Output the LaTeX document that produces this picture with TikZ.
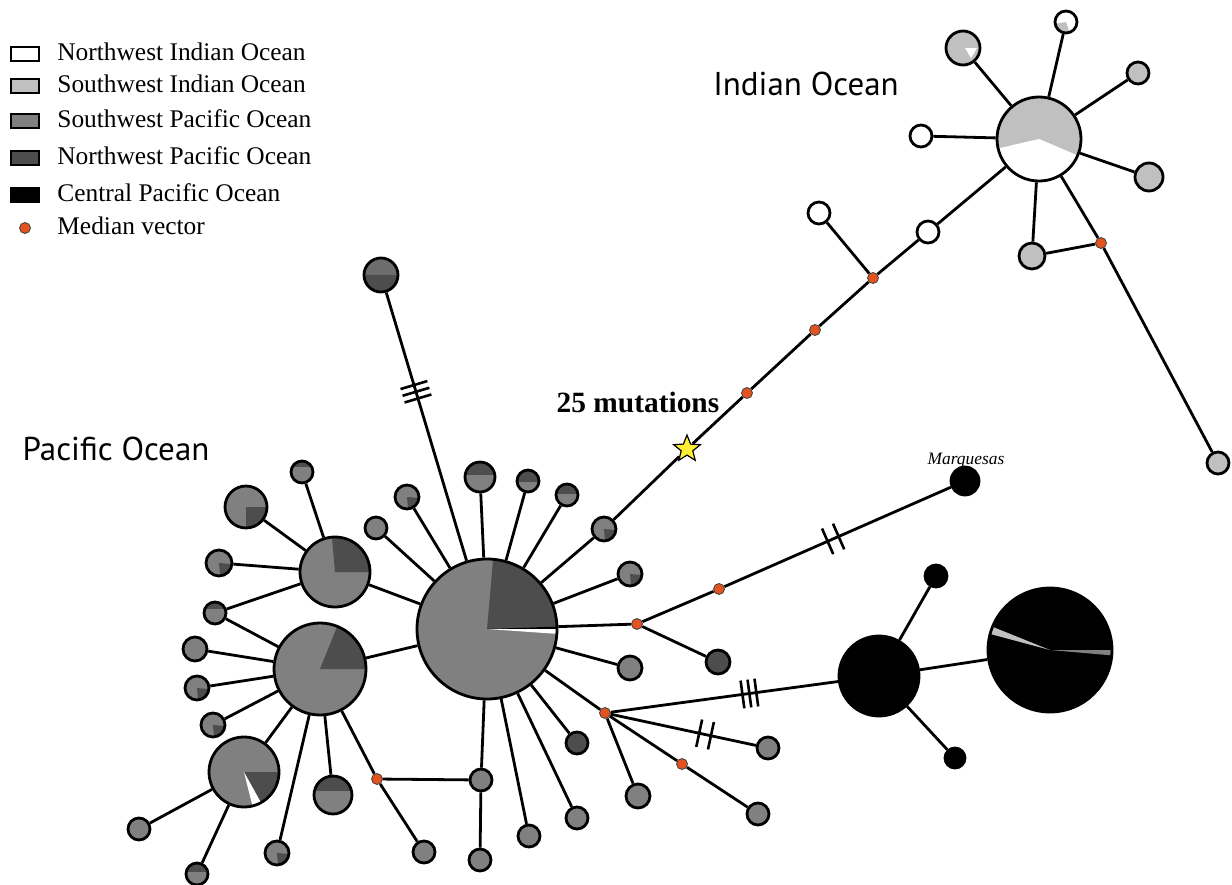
\documentclass[tikz,border=0pt]{standalone}
\usepackage{fontspec}
\setmainfont{Liberation Serif}
\newfontfamily\regionfont{PT Sans}
\usepackage{tikz}
\usetikzlibrary{shapes.geometric, decorations.markings}
\definecolor{ltGray}{HTML}{C0C0C0}
\definecolor{midGray}{HTML}{808080}
\definecolor{dkGray}{HTML}{4D4D4D}
\definecolor{medRed}{HTML}{E2531F}
\definecolor{starYellow}{HTML}{FFEE33}

\begin{document}
\begin{tikzpicture}[x=0.5pt, y=-0.5pt,
    hap/.style={circle, draw, line width=1.4pt, inner sep=0pt, minimum size=#1pt, fill=midGray},
    part/.style={path picture={\foreach \a/\b/\c in {#1}
      \fill[\c] (path picture bounding box.center) -- ++(\a:50pt)
        arc[start angle=\a, end angle=\b, radius=50pt] -- cycle;}},
    cap/.style 2 args={path picture={\fill[#2] ([yshift=#1]path picture bounding box.center)
      ++(-50pt,0pt) rectangle ++(100pt,50pt);}},
    med/.style={circle, draw=black!75, line width=0.4pt, fill=medRed, inner sep=0pt, minimum size=5.5pt},
    edge/.style={line width=1.4pt},
    hashes/.style 2 args={postaction={decorate, decoration={markings,
      mark=at position #1 with {\foreach \d in {#2} \draw[line width=1.3pt] (\d pt,-7pt) -- (\d pt,7pt);}}}},
    keybox/.style={draw, line width=0.7pt, minimum width=14pt, minimum height=7pt, inner sep=0pt},
    keytext/.style={anchor=west, inner sep=0pt, font=\fontsize{12.7}{15}\selectfont},
    region/.style={font=\regionfont\fontsize{16.5}{20}\selectfont}]
    \useasboundingbox (0,0) rectangle (1232,884);
    % --- legend ---
    \foreach \y/\c/\t [count=\i] in {54/white/Northwest Indian Ocean, 86/ltGray/Southwest Indian Ocean,
        121/midGray/Southwest Pacific Ocean, 158/dkGray/Northwest Pacific Ocean, 195/black/Central Pacific Ocean} {
      \node[keybox, fill=\c] (k\i) at (25,\y) {};
      \node[keytext] (t\i) at (57,\y-2) {\t};
    }
    \node[med] (k6) at (25,228) {};
    \node[keytext] (t6) at (57,226) {Median vector};
    % --- region labels ---
    \node[region] (indian) at (806,84) {Indian Ocean};
    \node[region] (pacific) at (116,449) {Pacific Ocean};
    \node[font=\bfseries\fontsize{14.7}{17}\selectfont] (mut) at (638,402) {25 mutations};
    \node[font=\itshape\fontsize{8.7}{10}\selectfont] (marq) at (966,461) {Marquesas};
    % --- Pacific haplotypes ---
    \node[hap=70, part={2/85/dkGray, 0/2/black, -4/0/white}] (h1) at (487,629) {};
    \node[hap=35, part={0/95/dkGray}] (h2) at (335,572) {};
    \node[hap=46, part={0/68/dkGray}] (h3) at (320,669) {};
    \node[hap=35, part={-61/0/dkGray, -76/-61/white}] (h4) at (244,772) {};
    \node[hap=11, cap={2.75pt}{dkGray}] (p1) at (302,472) {};
    \node[hap=21, part={-90/0/dkGray}] (p2) at (246,507) {};
    \node[hap=13, part={-85/-5/dkGray}] (p3) at (219,563) {};
    \node[hap=11, cap={2.2pt}{dkGray}] (p4) at (215,613) {};
    \node[hap=12] (p5) at (195,649) {};
    \node[hap=12, part={-85/-5/dkGray}] (p6) at (197,688) {};
    \node[hap=12, part={-85/-5/dkGray}] (p7) at (213,725) {};
    \node[hap=11] (p8) at (139,829) {};
    \node[hap=11, cap={1pt}{dkGray}] (p9) at (197,874) {};
    \node[hap=12, part={-85/-5/dkGray}] (p10) at (277,853) {};
    \node[hap=19, cap={1.9pt}{dkGray}] (p11) at (333,795) {};
    \node[hap=11] (p12) at (424,852) {};
    \node[hap=11] (p13) at (481,780) {};
    \node[hap=11] (p14) at (480,860) {};
    \node[hap=11] (p15) at (376,528) {};
    \node[hap=12, part={-85/-5/dkGray}] (p16) at (407,497) {};
    \node[hap=17, fill=dkGray, cap={0pt}{midGray!85!black}] (pt) at (381,275) {};
    \node[hap=15, cap={1pt}{dkGray}] (p17) at (480,477) {};
    \node[hap=11, cap={-0.5pt}{dkGray}] (p18) at (528,481) {};
    \node[hap=11, cap={0.5pt}{dkGray}] (p19) at (567,495) {};
    \node[hap=12, part={-85/-5/dkGray}] (p20) at (604,529) {};
    \node[hap=12, part={-85/-5/dkGray}] (p21) at (630,574) {};
    \node[hap=12, fill=dkGray] (p22) at (718,662) {};
    \node[hap=12] (p23) at (630,668) {};
    \node[hap=11, fill=dkGray] (p24) at (577,743) {};
    \node[hap=11] (p25) at (577,818) {};
    \node[hap=11] (p26) at (529,836) {};
    \node[hap=12] (p27) at (638,796) {};
    \node[hap=11] (p28) at (768,748) {};
    \node[hap=11] (p29) at (758,814) {};
    % --- Central Pacific haplotypes ---
    \node[hap=14, fill=black] (cm) at (965,481) {};
    \node[hap=11, fill=black] (c2) at (936,576) {};
    \node[hap=40, fill=black] (c1) at (879,676) {};
    \node[hap=62, fill=black, part={158/165/ltGray, -5/0/midGray}] (c3) at (1050,650) {};
    \node[hap=10, fill=black] (c4) at (955,758) {};
    % --- Indian haplotypes ---
    \node[hap=42, fill=ltGray, part={193/337/white}] (i1) at (1039,139) {};
    \node[hap=17, fill=ltGray, path picture={\fill[white] (path picture bounding box.center)
      ++(1pt,0pt) -- ++(6pt,0pt) -- ++(-3pt,-5pt) -- cycle;}] (i2) at (963,48) {};
    \node[hap=11, fill=white, part={190/290/ltGray}] (i3) at (1066,22) {};
    \node[hap=11, fill=ltGray] (i4) at (1138,73) {};
    \node[hap=11, fill=white] (i5) at (921,136) {};
    \node[hap=14, fill=ltGray] (i6) at (1149,177) {};
    \node[hap=13, fill=ltGray] (i7) at (1032,256) {};
    \node[hap=11, fill=ltGray] (i8) at (1218,463) {};
    \node[hap=11, fill=white] (i9) at (928,232) {};
    \node[hap=11, fill=white] (i10) at (819,213) {};
    % --- median vectors ---
    \foreach \n/\x/\y in {m1/377/779, m2/637/624, m3/719/589, m4/605/713, m5/682/764,
        m6/873/278, m7/815/330, m8/747/393, m9/1101/243}
      \node[med] (\n) at (\x,\y) {};
    \node[star, star points=5, star point ratio=2.3, draw, line width=0.6pt, fill=starYellow,
      minimum size=14pt, inner sep=0pt] (star) at (687,449) {};
    % --- links ---
    \foreach \a/\b in {h1/h2, h1/h3, h3/h4, h2/p1, h2/p2, h2/p3, h2/p4, h3/p4, h3/p5, h3/p6, h3/p7,
        h4/p8, h4/p9, h3/p10, h3/p11, h3/m1, m1/p12, m1/p13, h1/p13, p13/p14, h1/p15, h1/p16,
        h1/p17, h1/p18, h1/p19, h1/p20, h1/p21, h1/m2, h1/p23, h1/m4, h1/p24, h1/p25, h1/p26,
        m2/p22, m2/m3, m4/p27, m4/m5, m5/p29, c1/c2, c1/c3, c1/c4,
        p20/star, star/m8, m8/m7, m7/m6, m6/i10, m6/i9, i9/i1, i1/i2, i1/i3, i1/i4, i1/i5,
        i1/i6, i1/i7, i1/m9, m9/i7, m9/i8}
      \draw[edge] (\a) -- (\b);
    \draw[edge, hashes={0.37}{-3.5,0,3.5}] (pt) -- (h1);
    \draw[edge, hashes={0.48}{-3,3}] (m3) -- (cm);
    \draw[edge, hashes={0.61}{-3.5,0,3.5}] (m4) -- (c1);
    \draw[edge, hashes={0.65}{-3,3}] (m4) -- (p28);
  \end{tikzpicture}
\end{document}
